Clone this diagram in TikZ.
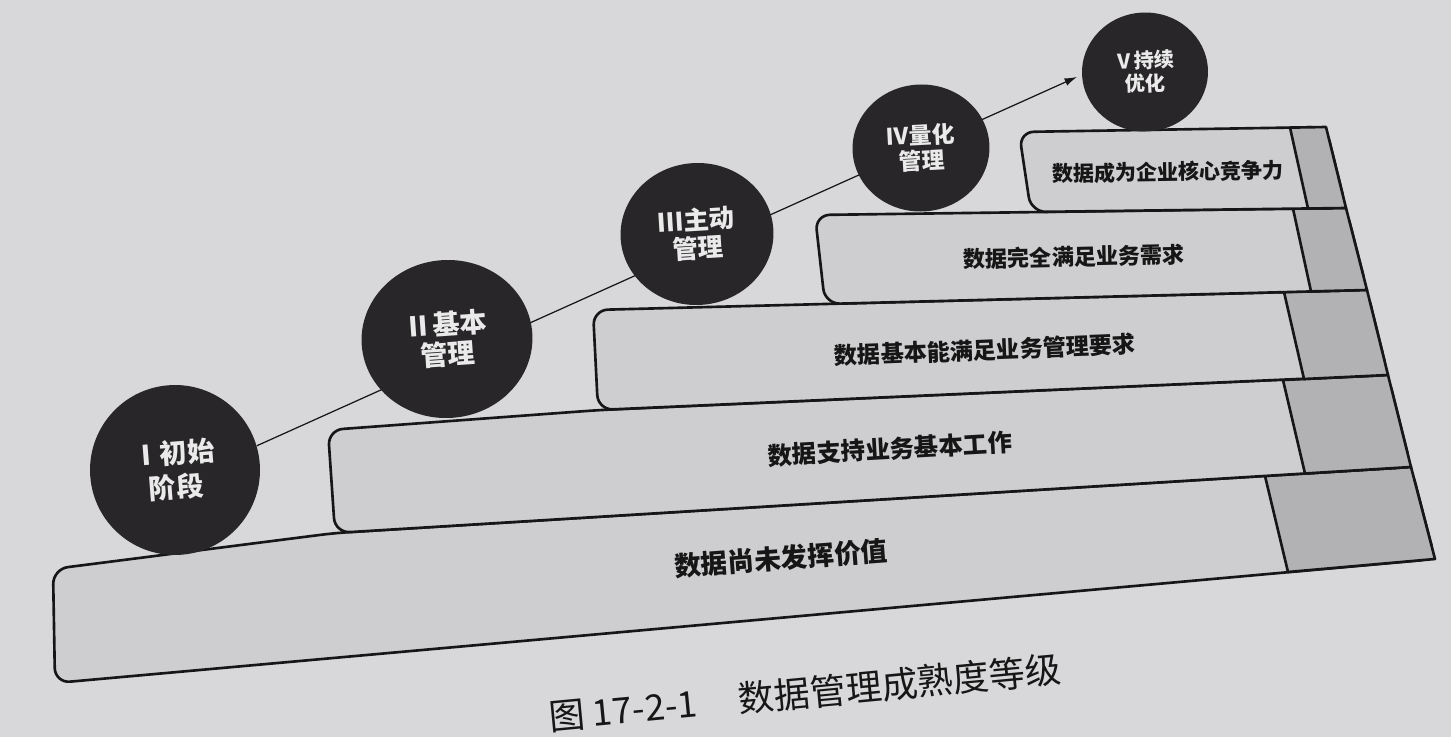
\documentclass[tikz,border=0pt]{standalone}
\usepackage{fontspec}
\setmainfont{Liberation Sans}
\newfontfamily\cjk{Noto Sans CJK SC}
\usetikzlibrary{arrows.meta,shapes.geometric}
\definecolor{pagebg}{RGB}{216,216,218}
\definecolor{barfill}{RGB}{206,206,209}
\definecolor{cellfill}{RGB}{178,178,181}
\definecolor{dark}{RGB}{40,38,40}
\definecolor{ink}{RGB}{22,22,22}
\definecolor{light}{RGB}{234,234,234}
\pgfdeclarelayer{bg}
\pgfsetlayers{bg,main}
\tikzset{
  bar/.style={fill=barfill, draw=ink, line width=1.5pt, rounded corners=0.3cm, line join=round},
  cell/.style={fill=cellfill, draw=ink, line width=1.5pt, line join=round},
  bartext/.style={font=\cjk\bfseries, text=ink, inner sep=0pt},
  stage/.style={ellipse, fill=dark, draw=none, inner sep=0pt, align=center, text=light, font=\cjk\bfseries},
  conn/.style={draw=ink, line width=0.7pt, -{Latex[length=7pt,width=4.5pt]}},
}
\begin{document}
\begin{tikzpicture}[x=0.02cm,y=-0.02cm]
\useasboundingbox (0,0) rectangle (1451,737);
% points on the step lines
\coordinate (A1) at (53,569);   \coordinate (M1) at (335,533);  \coordinate (R1) at (1411,467);
\coordinate (B0) at (55,683);   \coordinate (R0) at (1435,559);
\coordinate (A2) at (328,430);  \coordinate (M2) at (600,410);  \coordinate (R2) at (1388,375);
\coordinate (A3) at (593,310);  \coordinate (B3) at (598,410);  \coordinate (R3) at (1367,290);
\coordinate (A4) at (815,215);  \coordinate (B4) at (825,304);  \coordinate (R4) at (1346,208);
\coordinate (A5) at (1019,132); \coordinate (B5) at (1031,212); \coordinate (R5) at (1326,127);
% level 1
\draw[bar] (R1) -- (R0) -- (B0) -- (A1) -- (M1) -- cycle;
\draw[cell] (1265,476) -- (R1) -- (R0) -- (1288,572) -- cycle;
% level 2
\draw[bar] (R2) -- (R1) -- (M1) -- (A2) -- (M2) -- cycle;
\draw[cell] (1283,380) -- (R2) -- (R1) -- (1305,473.5) -- cycle;
% level 3
\draw[bar] (R3) -- (R2) -- (B3) -- (A3) -- cycle;
\draw[cell] (1284,292) -- (R3) -- (R2) -- (1304,379) -- cycle;
% level 4
\draw[bar] (R4) -- (R3) -- (B4) -- (A4) -- cycle;
\draw[cell] (1293,208.7) -- (R4) -- (R3) -- (1311,291.4) -- cycle;
% level 5
\draw[bar] (R5) -- (R4) -- (B5) -- (A5) -- cycle;
\draw[cell] (1290,127.6) -- (R5) -- (R4) -- (1308,208.5) -- cycle;
% bar texts
\node[bartext, rotate=4.3, font=\cjk\bfseries\fontsize{15.2}{18}\selectfont] (t1) at (781,558) {数据尚未发挥价值};
\node[bartext, rotate=3.2, font=\cjk\bfseries\fontsize{13.9}{17}\selectfont] (t2) at (890,449) {数据支持业务基本工作};
\node[bartext, rotate=2.2, font=\cjk\bfseries\fontsize{13.2}{16}\selectfont] (t3) at (985,350) {数据基本能满足业务管理要求};
\node[bartext, rotate=1.3, font=\cjk\bfseries\fontsize{12.6}{15}\selectfont] (t4) at (1074,257) {数据完全满足业务需求};
\node[bartext, rotate=0.9, font=\cjk\bfseries\fontsize{12}{14}\selectfont] (t5) at (1168,172) {数据成为企业核心竞争力};
% stages
\node[stage, minimum width=3.4cm, minimum height=3.4cm, rotate=4.5, font=\cjk\bfseries\fontsize{15.5}{19}\selectfont] (c1) at (175,470) {Ⅰ初始\\阶段};
\node[stage, minimum width=3.42cm, minimum height=3.16cm, rotate=4, font=\cjk\bfseries\fontsize{15.5}{17}\selectfont] (c2) at (447,339) {Ⅱ基本\\管理};
\node[stage, minimum width=3.06cm, minimum height=2.84cm, rotate=3.5, font=\cjk\bfseries\fontsize{14.5}{16}\selectfont] (c3) at (697,234) {Ⅲ主动\\管理};
\node[stage, minimum width=2.74cm, minimum height=2.54cm, rotate=3, font=\cjk\bfseries\fontsize{13}{14.5}\selectfont] (c4) at (921,148) {Ⅳ量化\\管理};
\node[stage, minimum width=2.52cm, minimum height=2.38cm, rotate=2.5, font=\cjk\bfseries\fontsize{11.5}{13}\selectfont] (c5) at (1145,72) {Ⅴ持续\\优化};
% caption
\node[font=\cjk\fontsize{20.5}{24}\selectfont, text=ink, rotate=5.4, inner sep=0pt] (cap) at (805,693) {图 17-2-1\hspace{1.15em}数据管理成熟度等级};
% background and connector
\begin{pgfonlayer}{bg}
\fill[pagebg] (0,0) rectangle (1451,737);
\draw[conn, shorten >=3pt] (c1.12) -- (c5.180);
\end{pgfonlayer}
\end{tikzpicture}
\end{document}
